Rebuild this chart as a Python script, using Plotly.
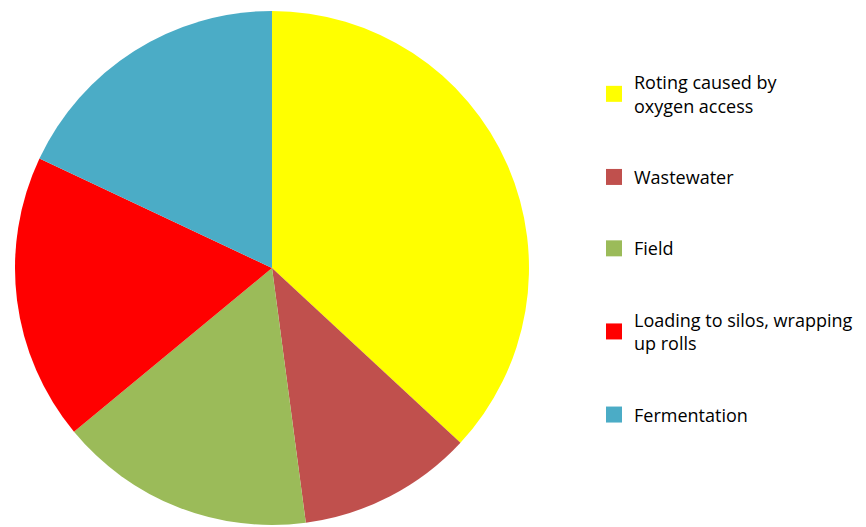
import plotly.graph_objects as go

labels = ["Roting caused by<br>oxygen access", "Wastewater", "Field",
          "Loading to silos, wrapping<br>up rolls", "Fermentation"]
values = [36.9, 11.0, 16.1, 18.0, 18.0]
colors = ["#FFFF00", "#C0504D", "#9BBB59", "#FF0000", "#4BACC6"]

fig = go.Figure()
fig.add_trace(go.Pie(
    labels=labels, values=values, sort=False, direction="clockwise", rotation=0,
    marker=dict(colors=colors, line=dict(width=0)),
    textinfo="none", hoverinfo="label+percent", showlegend=False,
    domain=dict(x=[0, 514/859], y=[0, 1]),
))
# legend entries (one per slice)
for i, (lab, col) in enumerate(zip(labels, colors)):
    fig.add_trace(go.Scatter(
        x=[None], y=[None], mode="markers", name=lab, legendgroup=f"g{i}",
        marker=dict(symbol="square", size=16, color=col),
        hoverinfo="skip",
    ))
fig.update_layout(
    width=866, height=527,
    margin=dict(l=7, r=0, t=3, b=10),
    paper_bgcolor="white", plot_bgcolor="white",
    xaxis=dict(visible=False), yaxis=dict(visible=False),
    font=dict(family="Open Sans", size=18, color="black"),
    legend=dict(x=(586 - 7) / 859, xanchor="left", y=0.897, yanchor="top",
                traceorder="grouped", tracegroupgap=45,
                font=dict(family="Open Sans", size=18, color="black")),
)
fig.write_html("out.html")
